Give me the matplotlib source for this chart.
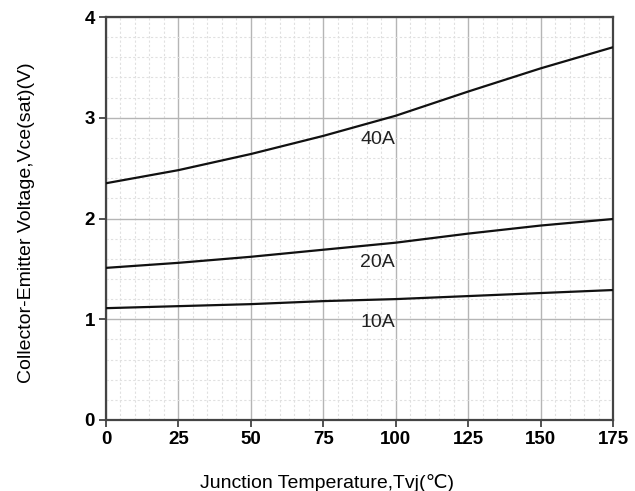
import matplotlib
matplotlib.use("Agg")
import matplotlib.pyplot as plt
import numpy as np
from matplotlib.ticker import MultipleLocator

plt.rcParams['font.family'] = ['Liberation Sans', 'DejaVu Sans']

temp = [0, 25, 50, 75, 100, 125, 150, 175]
vce_40a = [2.35, 2.48, 2.64, 2.82, 3.02, 3.26, 3.49, 3.70]
vce_20a = [1.51, 1.56, 1.62, 1.69, 1.76, 1.85, 1.93, 1.995]
vce_10a = [1.11, 1.13, 1.15, 1.18, 1.20, 1.23, 1.26, 1.29]
curve_labels = ["40A", "20A", "10A"]
label_pos = [(93.7, 2.78), (93.7, 1.56), (93.7, 0.97)]

fig = plt.figure(figsize=(6.35, 4.91), dpi=100)
ax = fig.add_axes([106/635, 1 - 420/491, 507/635, 403/491])

for ys in (vce_40a, vce_20a, vce_10a):
    ax.plot(temp, ys, color='#111111', lw=1.6, zorder=3)
for lbl, (lx, ly) in zip(curve_labels, label_pos):
    ax.text(lx, ly, lbl, ha='center', va='center', fontsize=14, color='#222222')

ax.set_xlim(0, 175)
ax.set_ylim(0, 4)
ax.xaxis.set_major_locator(MultipleLocator(25))
ax.xaxis.set_minor_locator(MultipleLocator(5))
ax.yaxis.set_major_locator(MultipleLocator(1))
ax.yaxis.set_minor_locator(MultipleLocator(0.2))
ax.grid(which='major', color='#b5b5b5', lw=1.0, zorder=1)
ax.grid(which='minor', color='#e0e0e0', lw=0.8, ls=(0, (2, 2)), zorder=1)
ax.tick_params(which='major', direction='out', length=5, width=1.2,
               color='#333333', labelsize=13.5, pad=3)
ax.tick_params(which='minor', length=0)
for t in ax.get_xticklabels() + ax.get_yticklabels():
    t.set_fontweight('bold')
for s in ax.spines.values():
    s.set_color('#444444')
    s.set_linewidth(1.6)

fig.text(27/635, 1 - 223/491, "Collector-Emitter Voltage,Vce(sat)(V)",
         rotation=90, ha='center', va='center', fontsize=14)
fig.text(327/635, 1 - 483/491, "Junction Temperature,Tvj(\u2103)",
         ha='center', va='center', fontsize=14)

fig.savefig("out.png", dpi=100)
